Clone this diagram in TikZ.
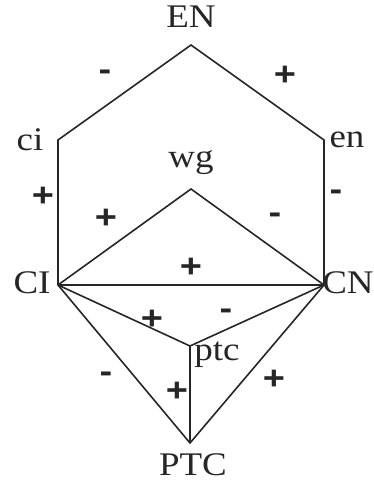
\documentclass[tikz,border=0pt]{standalone}
\usepackage{fontspec}
\setmainfont[FakeStretch=1.12]{Liberation Serif}
\newfontfamily\signfont[FakeStretch=1.15]{Liberation Sans}
\begin{document}
\begin{tikzpicture}[x=1pt,y=-1pt,
  edge/.style={draw=black!85,line width=1.6pt,line join=miter},
  lab/.style={font=\fontsize{33}{33}\selectfont,inner sep=0pt,text=black!85},
  sgn/.style={font=\signfont\bfseries\fontsize{33}{33}\selectfont,inner sep=0pt,text=black!85}]
\useasboundingbox (0,0) rectangle (374,485);
% vertices
\coordinate (EN) at (191,45);
\coordinate (ci) at (58,140);
\coordinate (en) at (324,140);
\coordinate (wg) at (191,189);
\coordinate (CI) at (58,285);
\coordinate (CN) at (324,285);
\coordinate (ptc) at (190,346);
\coordinate (PTC) at (190,443);
% edges
\draw[edge] (CI) -- (ci) -- (EN) -- (en) -- (CN);
\draw[edge] (CI) -- (wg) -- (CN);
\draw[edge] (CI) -- (CN);
\draw[edge] (CI) -- (ptc) -- (CN);
\draw[edge] (CI) -- (PTC) -- (CN);
\draw[edge] (ptc) -- (PTC);
% labels
\node[lab] (lEN) at (191,17) {EN};
\node[lab] (lci) at (30,140) {ci};
\node[lab] (len) at (347,140) {en};
\node[lab] (lwg) at (191,163) {wg};
\node[lab] (lCI) at (32,283) {CI};
\node[lab] (lCN) at (348,283) {CN};
\node[lab] (lptc) at (217,355) {ptc};
\node[lab] (lPTC) at (193,465) {PTC};
% signs
\node[sgn] (s1) at (105,75) {-};
\node[sgn] (s2) at (285,76) {+};
\node[sgn] (s3) at (43,197) {+};
\node[sgn] (s4) at (336,195) {-};
\node[sgn] (s5) at (106,219) {+};
\node[sgn] (s6) at (275,218) {-};
\node[sgn] (s7) at (191,268) {+};
\node[sgn] (s8) at (152,320) {+};
\node[sgn] (s9) at (226,314) {-};
\node[sgn] (s10) at (106,377) {-};
\node[sgn] (s11) at (177,392) {+};
\node[sgn] (s12) at (274,380) {+};
\end{tikzpicture}
\end{document}
